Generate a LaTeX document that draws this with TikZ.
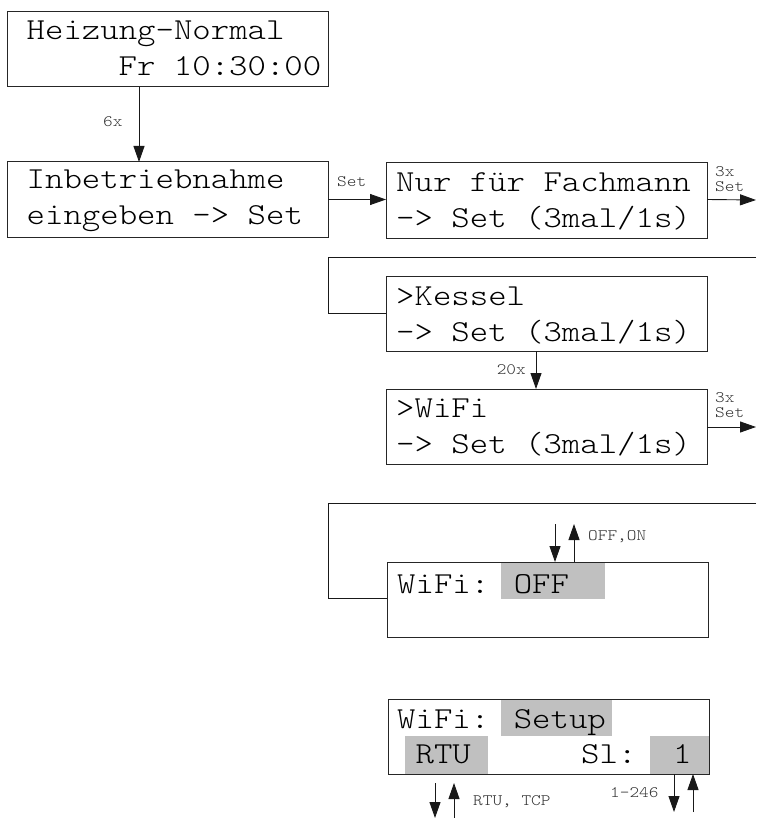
\documentclass[tikz,border=0pt]{standalone}
\usepackage{fontspec}
\usetikzlibrary{arrows.meta}
\newfontfamily\lcd[FakeStretch=1.15]{lmmonolt10-regular.otf}
\definecolor{hl}{RGB}{192,192,192}
\begin{document}
\begin{tikzpicture}[x=1pt,y=-1pt,
  box/.style={draw=black!85,line width=1pt,minimum width=321pt,minimum height=75pt,inner sep=0pt,outer sep=0pt,anchor=north west},
  lcdtxt/.style={anchor=base west,inner sep=0pt,font=\lcd\fontsize{30.5}{30.5}\selectfont},
  lbl/.style={inner sep=0pt,text=black!80,font=\lcd\fontsize{16}{16}\selectfont},
  conn/.style={line width=0.9pt,draw=black!90},
  arr/.style={conn,-{Triangle[length=16pt,width=11pt]}},
  hlbox/.style={fill=hl,draw=none}]
\useasboundingbox (0,0) rectangle (756,818);
% highlights
\fill[hlbox] (501,562) rectangle (605,599);
\fill[hlbox] (501,699) rectangle (612,736);
\fill[hlbox] (405,736) rectangle (488,774);
\fill[hlbox] (650,736) rectangle (709,774);
% boxes
\node[box] (b1) at (7,12) {};
\node[box] (b2) at (7,162) {};
\node[box] (b3) at (386,163) {};
\node[box] (b4) at (386,276) {};
\node[box] (b5) at (386,389) {};
\node[box] (b6) at (387,562) {};
\node[box] (b7) at (388,699) {};
% texts
\node[lcdtxt] (t1a) at (26.5,40) {Heizung-Normal};
\node[lcdtxt] (t1b) at (118.5,76) {Fr 10:30:00};
\node[lcdtxt] (t2a) at (26.5,189) {Inbetriebnahme};
\node[lcdtxt] (t2b) at (26.5,225) {eingeben -> Set};
\node[lcdtxt] (t3a) at (396,192) {Nur für Fachmann};
\node[lcdtxt] (t3b) at (396,228) {-> Set (3mal/1s)};
\node[lcdtxt] (t4a) at (396,305) {>Kessel};
\node[lcdtxt] (t4b) at (396,341) {-> Set (3mal/1s)};
\node[lcdtxt] (t5a) at (396,417) {>WiFi};
\node[lcdtxt] (t5b) at (396,453) {-> Set (3mal/1s)};
\node[lcdtxt] (t6a) at (397,593) {WiFi: OFF};
\node[lcdtxt] (t7a) at (397,728) {WiFi: Setup};
\node[lcdtxt] (t7b) at (415.4,763) {RTU};
\node[lcdtxt] (t7c) at (581,763) {Sl:};
\node[lcdtxt] (t7d) at (673,763) {1};
% coordinates for free ends
\coordinate (e1) at (756,200);
\coordinate (e2) at (756,427);
\coordinate (l1) at (756,257);
\coordinate (k1) at (328,257);
\coordinate (l2) at (756,503);
\coordinate (k2) at (328,503);
\coordinate (w6) at (387,598);
\coordinate (u1) at (555,524);
\coordinate (u2) at (574,524);
\coordinate (r1) at (435,783);
\coordinate (r1b) at (435,818);
\coordinate (r2) at (454,783);
\coordinate (r2b) at (454,818);
\coordinate (s1) at (674,812);
\coordinate (s2) at (693,812);
% connectors
\draw[arr] ([xshift=132pt]b1.south west) -- ([xshift=132pt]b2.north west);
\node[lbl,anchor=west] (l6x) at (103,122) {6x};
\draw[arr] (b2.east) -- (b2.east -| b3.west);
\node[lbl,anchor=west] (lset) at (337,182) {Set};
\draw[arr] (b2.east -| b3.east) -- (e1);
\node[lbl,anchor=west] (l3x) at (715,172) {3x};
\node[lbl,anchor=west] (l3s) at (715,187) {Set};
\draw[conn] (l1) -- (k1) -- (k1 |- b4.west) -- (b4.west);
\draw[arr] ([xshift=150pt]b4.south west) -- ([xshift=150pt]b5.north west);
\node[lbl,anchor=east] (l20) at (526,370) {20x};
\draw[arr] (e2 -| b5.east) -- (e2);
\node[lbl,anchor=west] (l3xb) at (715,398) {3x};
\node[lbl,anchor=west] (l3sb) at (715,413) {Set};
\draw[conn] (l2) -- (k2) -- (k2 |- w6) -- (w6);
\draw[arr] (u1) -- (u1 |- b6.north);
\draw[arr] (u2 |- b6.north) -- (u2);
\node[lbl,anchor=west] (lon) at (588,537) {OFF,ON};
\draw[arr] (r1) -- (r1b);
\draw[arr] (r2b) -- (r2);
\node[lbl,anchor=west] (lrtu) at (473,802) {RTU, TCP};
\draw[arr] (s1 |- b7.south) -- (s1);
\draw[arr] (s2) -- (s2 |- b7.south);
\node[lbl,anchor=west] (l246) at (610,793) {1-246};
\end{tikzpicture}
\end{document}
